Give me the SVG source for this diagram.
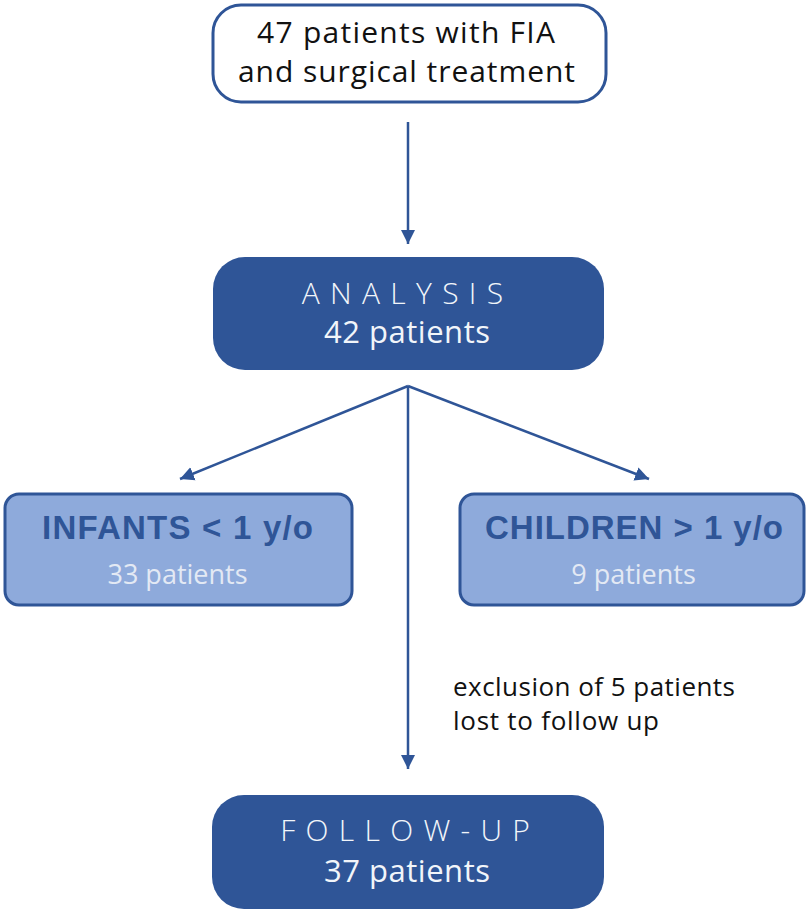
<svg xmlns="http://www.w3.org/2000/svg" width="810" height="912" viewBox="0 0 810 912">
  <style>
    .reg { font-family: "Open Sans", "Liberation Sans", sans-serif; font-weight: 400; }
    .dark { fill: #2f5597; }
    .light { fill: #8eaadb; stroke: #2f5597; stroke-width: 3; }
    .white { fill: #ffffff; stroke: #2f5597; stroke-width: 3; }
    .ttl { font-family: "Liberation Sans", Arial, sans-serif; font-weight: bold; fill: #2f5597; font-size: 33px; text-anchor: middle; }
    .sub { fill: #e3e9f4; font-size: 27px; text-anchor: middle; }
    .num { fill: #f2f5fa; font-size: 31px; text-anchor: middle; }
    .cap { fill: #f2f5fa; font-weight: 300; font-size: 30px; letter-spacing: 10.3px; text-anchor: middle; }
    .blk { fill: #111111; }
    .conn { stroke: #2f5597; stroke-width: 2.5; fill: none; marker-end: url(#arr); }
  </style>
  <defs>
    <marker id="arr" markerUnits="userSpaceOnUse" markerWidth="15" markerHeight="15" refX="14" refY="7.5" orient="auto" viewBox="0 0 15 15">
      <path d="M0,0.5 L14,7.5 L0,14.5 z" fill="#2f5597"/>
    </marker>
  </defs>
  <rect width="810" height="912" fill="#ffffff"/>

  <g id="connectors">
    <line class="conn" x1="408" y1="122" x2="408" y2="244"/>
    <line class="conn" x1="408" y1="386" x2="180" y2="479"/>
    <line class="conn" x1="408" y1="386" x2="649" y2="479"/>
    <line class="conn" x1="408" y1="386" x2="408" y2="769"/>
  </g>

  <g id="start">
    <rect class="white" x="213" y="5" width="393" height="97" rx="28"/>
    <text class="reg blk" x="406" y="43" font-size="30" text-anchor="middle" textLength="298">47 patients with FIA</text>
    <text class="reg blk" x="406.5" y="82" font-size="30" text-anchor="middle" textLength="337">and surgical treatment</text>
  </g>

  <g id="analysis">
    <rect class="dark" x="213" y="257" width="391" height="113" rx="32"/>
    <text class="reg cap" x="407.6" y="304">ANALYSIS</text>
    <text class="reg num" x="407" y="343" textLength="166">42 patients</text>
  </g>

  <g id="infants">
    <rect class="light" x="5" y="494" width="347" height="111" rx="14"/>
    <text class="ttl" x="177.5" y="539" textLength="271">INFANTS &lt; 1 y/o</text>
    <text class="reg sub" x="177.5" y="584">33 patients</text>
  </g>

  <g id="children">
    <rect class="light" x="460" y="494" width="344" height="111" rx="14"/>
    <text class="ttl" x="634" y="539" textLength="298">CHILDREN &gt; 1 y/o</text>
    <text class="reg sub" x="633.5" y="584">9 patients</text>
  </g>

  <g id="exclusion">
    <text class="reg blk" x="453" y="696" font-size="26" textLength="282">exclusion of 5 patients</text>
    <text class="reg blk" x="453" y="730" font-size="26" textLength="206">lost to follow up</text>
  </g>

  <g id="followup">
    <rect class="dark" x="212" y="795" width="392" height="114" rx="32"/>
    <text class="reg cap" x="410.2" y="841">FOLLOW-UP</text>
    <text class="reg num" x="407" y="882" textLength="166">37 patients</text>
  </g>
</svg>
